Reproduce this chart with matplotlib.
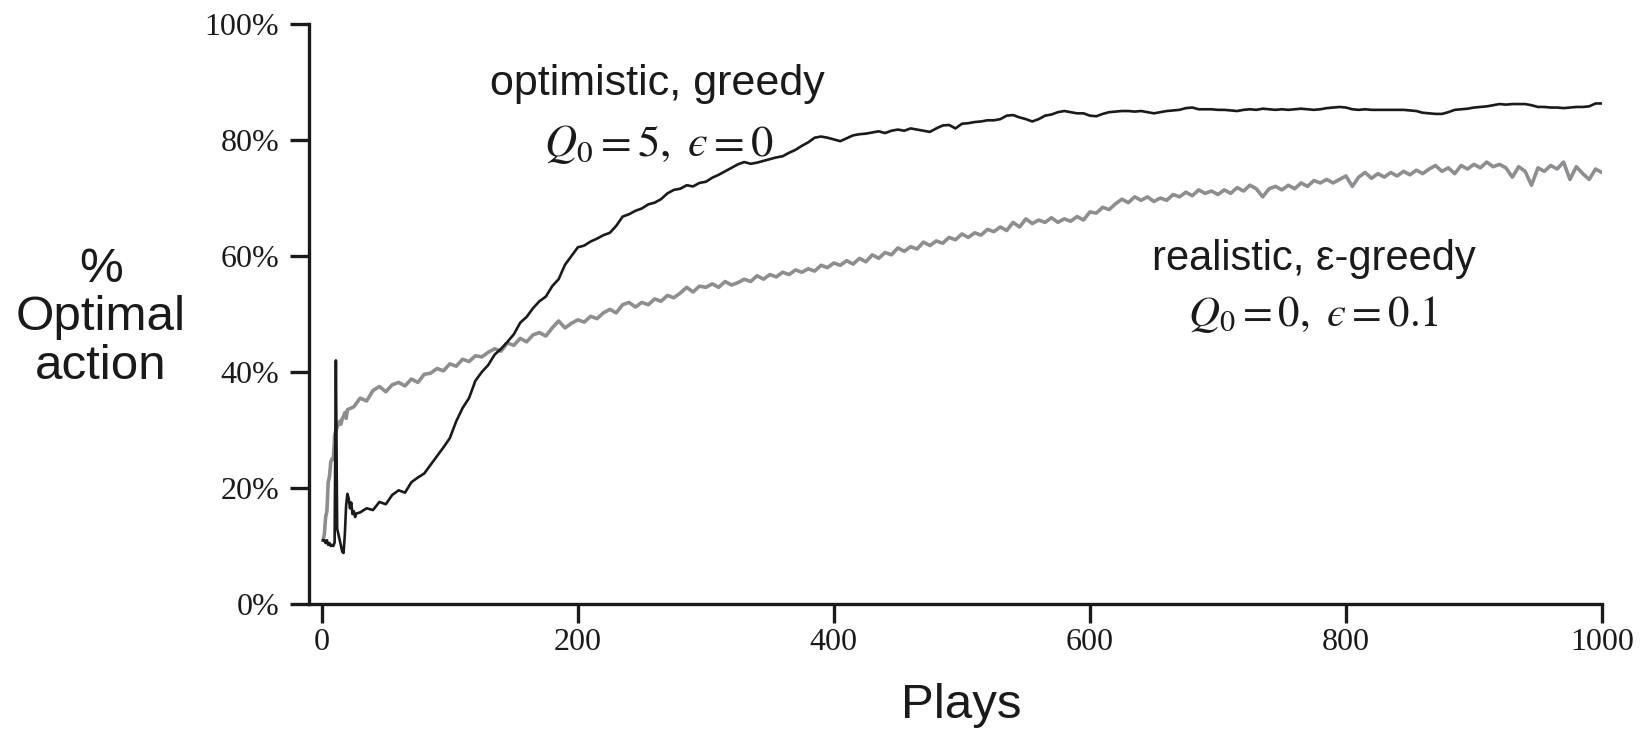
import matplotlib
matplotlib.use('Agg')
from matplotlib import pyplot as plt
import matplotlib.ticker as ticker

# optimistic, greedy (Q0 = 5, eps = 0)
black_x = [1, 2, 3, 4, 5, 6, 7, 8, 9, 10, 11, 12, 13, 14, 15, 16, 17, 18, 19, 20,
           21, 22, 23, 24, 25, 26, 27] + list(range(30, 1001, 5))
black_y = [11.0, 11.0, 10.5, 11.0, 10.2, 10.5, 10.0, 10.2, 10.0, 10.6, 42.0, 13.0, 12.0,
           11.0, 10.0, 9.0, 8.8, 12.0, 17.0, 19.0, 18.2, 16.5, 17.5, 15.5, 16.0, 15.0, 15.6,
           15.8, 16.5, 16.2, 17.6, 17.2, 18.8, 19.6, 19.2, 21.0, 21.8,
           22.5, 24.0, 25.5, 27.0, 28.6, 31.5, 33.8, 35.5, 38.5, 40.0,
           41.2, 43.0, 44.0, 45.2, 46.5, 48.5, 49.5, 51.0, 52.2, 53.0,
           54.8, 56.0, 58.5, 60.0, 61.5, 61.8, 62.5, 63.0, 63.6, 64.0,
           65.2, 66.8, 67.2, 67.8, 68.2, 68.9, 69.2, 69.8, 70.8, 71.4,
           71.6, 72.2, 72.0, 72.6, 72.8, 73.5, 74.0, 74.6, 75.2, 75.8,
           76.2, 75.9, 76.1, 76.4, 76.7, 77.0, 77.2, 77.8, 78.3, 79.0,
           79.6, 80.4, 80.6, 80.4, 80.1, 79.8, 80.3, 80.8, 81.0, 81.1,
           81.3, 81.5, 81.2, 81.6, 81.8, 81.6, 82.0, 81.8, 81.6, 81.4,
           82.0, 82.5, 82.6, 82.0, 82.8, 82.9, 83.1, 83.2, 83.4, 83.4,
           83.6, 84.2, 84.3, 83.9, 83.6, 83.2, 83.6, 84.2, 84.4, 84.8,
           85.0, 84.8, 84.6, 84.6, 84.2, 84.1, 84.5, 84.8, 84.9, 85.0,
           85.0, 84.9, 85.0, 84.8, 84.6, 84.8, 85.0, 85.1, 85.2, 85.5,
           85.6, 85.3, 85.3, 85.3, 85.2, 85.2, 85.1, 85.0, 85.2, 85.3,
           85.2, 85.4, 85.3, 85.2, 85.3, 85.2, 85.3, 85.4, 85.3, 85.2,
           85.3, 85.5, 85.6, 85.7, 85.6, 85.3, 85.2, 85.3, 85.2, 85.2,
           85.2, 85.2, 85.2, 85.2, 85.1, 85.0, 84.7, 84.6, 84.5, 84.5,
           84.8, 85.2, 85.3, 85.4, 85.6, 85.7, 85.8, 86.0, 86.2, 86.1,
           86.2, 86.2, 86.2, 86.0, 85.7, 85.7, 85.6, 85.6, 85.5, 85.6,
           85.7, 85.7, 85.8, 86.3, 86.3]

# realistic, eps-greedy (Q0 = 0, eps = 0.1)
gray_x = [1, 2, 3, 4, 5, 6, 7, 8, 9, 10, 11, 12, 13, 14, 15, 16, 17, 18, 19, 20] + list(range(25, 1001, 5))
gray_y = [11.0, 12.0, 15.0, 16.0, 21.0, 22.0, 24.5, 25.0, 25.0, 29.0, 30.0, 30.5, 31.0,
          31.5, 31.0, 32.0, 32.3, 33.0, 32.0, 33.5,
          34.0, 35.5, 35.0, 36.8, 37.5, 36.6, 37.8, 38.2, 37.6, 38.8,
          38.2, 39.6, 39.8, 40.6, 40.2, 41.4, 41.0, 42.2, 41.8, 42.8,
          42.6, 43.4, 44.0, 43.6, 45.0, 44.6, 45.8, 45.2, 46.4, 46.8,
          46.2, 47.6, 48.8, 47.6, 48.4, 49.0, 48.6, 49.6, 49.2, 50.2,
          50.8, 50.2, 51.6, 52.0, 51.2, 52.0, 51.6, 52.6, 52.2, 53.2,
          52.8, 53.6, 54.6, 53.8, 54.8, 54.6, 55.2, 54.6, 55.6, 55.0,
          55.4, 56.0, 55.6, 56.6, 56.0, 56.8, 56.4, 57.2, 56.8, 57.6,
          57.2, 57.8, 57.4, 58.4, 58.0, 58.8, 58.4, 59.2, 58.6, 59.6,
          59.0, 60.2, 59.6, 60.6, 60.2, 61.4, 60.8, 61.6, 61.2, 62.4,
          61.8, 62.6, 62.2, 63.2, 62.8, 63.8, 63.2, 64.0, 63.6, 64.6,
          64.2, 65.0, 64.4, 65.8, 65.0, 66.4, 65.6, 66.2, 65.8, 66.6,
          65.8, 66.4, 66.0, 66.8, 66.2, 67.6, 67.4, 68.4, 68.0, 69.0,
          69.8, 69.2, 70.2, 69.6, 70.2, 69.4, 70.0, 69.6, 70.6, 70.2,
          71.0, 70.4, 71.4, 70.8, 71.2, 70.6, 71.4, 70.8, 71.8, 71.2,
          72.2, 71.6, 70.2, 71.6, 72.0, 71.4, 72.2, 71.6, 72.6, 72.0,
          73.0, 72.6, 73.2, 72.6, 73.2, 73.8, 72.0, 73.6, 74.4, 73.4,
          74.2, 73.6, 74.4, 73.8, 74.6, 74.0, 74.8, 74.2, 75.0, 75.6,
          74.6, 75.2, 74.2, 75.6, 75.0, 75.8, 75.2, 76.2, 75.4, 75.8,
          75.2, 73.6, 75.4, 74.6, 72.2, 75.2, 74.6, 75.6, 75.0, 76.2,
          73.2, 75.4, 74.2, 73.2, 75.0, 74.4]

x_ticks = [0, 200, 400, 600, 800, 1000]
y_ticks = [0, 20, 40, 60, 80, 100]

plt.rcParams['mathtext.fontset'] = 'stix'
serif = 'Liberation Serif'
sans = 'Liberation Sans'
ink = '#1a1a1a'

fig = plt.figure(figsize=(16.41, 7.30), dpi=100)
ax = fig.add_axes([0.1883, 0.1726, 0.7879, 0.7945])
ax.plot(gray_x, gray_y, color='#8e8e92', linewidth=2.6)
ax.plot(black_x, black_y, color=ink, linewidth=1.9)

ax.set_xlim(-10, 1000)
ax.set_ylim(0, 100)
ax.spines['top'].set_visible(False)
ax.spines['right'].set_visible(False)
for s in ['left', 'bottom']:
    ax.spines[s].set_linewidth(2.4)
    ax.spines[s].set_color(ink)
ax.set_xticks(x_ticks)
ax.set_yticks(y_ticks)
ax.yaxis.set_major_formatter(ticker.FuncFormatter(lambda v, p: '%d%%' % v))
ax.tick_params(direction='out', length=13.5, width=2.4, color=ink)
ax.tick_params(axis='y', pad=8)
ax.tick_params(axis='x', pad=4)
for lab in ax.get_xticklabels() + ax.get_yticklabels():
    lab.set_fontfamily(serif)
    lab.set_fontsize(23)
    lab.set_color(ink)

# lunate epsilon, as in the original figure
ax.text(262, 89.7, 'optimistic, greedy', family=sans, fontsize=31, ha='center', va='center', color=ink)
ax.text(263, 79.3, '$Q_0 = 5,\\ \u03f5 = 0$', fontsize=32, ha='center', va='center', color=ink)
ax.text(775, 59.4, 'realistic, ε-greedy', family=sans, fontsize=30, ha='center', va='center', color=ink)
ax.text(775, 50.0, '$Q_0 = 0,\\ \u03f5 = 0.1$', fontsize=31, ha='center', va='center', color=ink)

fig.text(101 / 1641, 1 - 318 / 730, '%\nOptimal\naction', family=sans, fontsize=35.5, ha='center', va='center',
         linespacing=1.1, color=ink)
fig.text(961 / 1641, 1 - 706 / 730, 'Plays', family=sans, fontsize=35.5, ha='center', va='center', color=ink)

fig.savefig('out.png', dpi=100)
